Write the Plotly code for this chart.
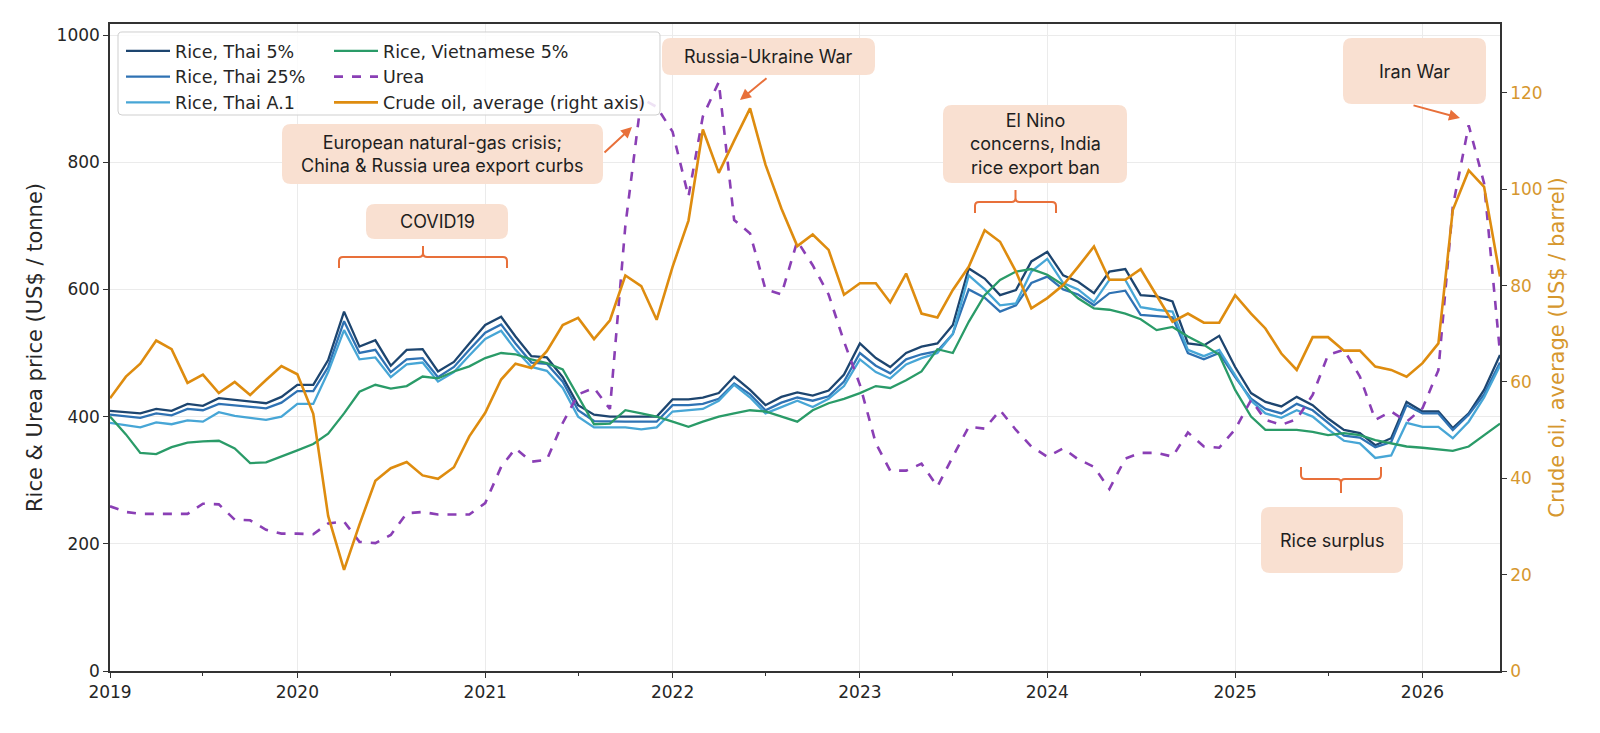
import pandas as pd
import plotly.graph_objects as go

# monthly, Jan 2019 .. Jun 2026
months = pd.date_range("2019-01-01", "2026-06-01", freq="MS")

thai5 = [409, 407, 405, 412, 409, 420, 417, 429, 426, 423, 421, 431,
         450, 450, 489, 565, 510, 520, 480, 505, 506, 471, 486, 515,
         544, 557, 526, 495, 493, 462, 418, 403, 400, 400, 400, 400,
         427, 427, 430, 437, 463, 442, 418, 431, 438, 433, 441, 466,
         515, 492, 478, 500, 510, 515, 544, 633, 617, 591, 599, 644,
         659, 622, 612, 594, 628, 632, 591, 589, 581, 515, 512, 527,
         478, 437, 423, 416, 431, 418, 397, 379, 374, 355, 366, 423,
         408, 408, 382, 405, 442, 497]

thai25 = [403, 400, 398, 405, 402, 412, 410, 420, 418, 415, 413, 422,
          440, 440, 478, 550, 500, 505, 470, 490, 492, 462, 478, 505,
          532, 545, 515, 485, 483, 455, 410, 393, 392, 392, 392, 392,
          418, 418, 420, 428, 452, 435, 410, 422, 430, 425, 432, 455,
          500, 480, 468, 490, 498, 503, 530, 600, 587, 565, 575, 610,
          620, 600, 592, 575, 594, 598, 560, 558, 556, 500, 490, 500,
          462, 428, 412, 405, 420, 410, 390, 370, 367, 352, 360, 418,
          405, 405, 379, 403, 435, 485]

thai_a1 = [390, 386, 383, 391, 388, 394, 392, 407, 401, 398, 395, 400,
           420, 420, 470, 536, 490, 493, 462, 482, 485, 455, 470, 496,
           522, 535, 505, 478, 472, 445, 400, 383, 383, 383, 380, 383,
           408, 410, 412, 425, 450, 430, 405, 415, 425, 415, 428, 448,
           490, 470, 460, 482, 492, 500, 530, 622, 600, 575, 578, 628,
           648, 610, 600, 580, 615, 615, 572, 568, 565, 505, 495, 505,
           465, 425, 405, 398, 410, 400, 380, 362, 358, 335, 339, 390,
           384, 384, 366, 392, 430, 480]

viet5 = [400, 372, 343, 341, 352, 359, 361, 362, 350, 327, 328, 337,
         347, 357, 373, 405, 439, 450, 444, 448, 463, 460, 471, 479,
         492, 500, 498, 490, 484, 474, 431, 388, 389, 410, 405, 400,
         392, 384, 392, 400, 405, 410, 408, 400, 392, 410, 421, 428,
         437, 448, 445, 457, 471, 506, 500, 549, 591, 615, 628, 632,
         623, 607, 586, 570, 568, 562, 553, 536, 541, 526, 513, 497,
         442, 400, 379, 379, 379, 376, 371, 374, 371, 363, 358, 353,
         351, 349, 346, 353, 371, 389]

urea = [259, 250, 247, 247, 247, 247, 263, 262, 238, 237, 222, 216,
        216, 215, 232, 235, 203, 201, 214, 248, 250, 246, 246, 246,
        264, 321, 350, 329, 332, 390, 435, 445, 412, 700, 900, 887,
        848, 746, 872, 926, 709, 688, 600, 592, 676, 638, 592, 518,
        450, 358, 315, 315, 326, 290, 337, 384, 381, 410, 379, 353,
        337, 350, 333, 321, 286, 334, 343, 343, 337, 375, 353, 351,
        380, 426, 395, 387, 396, 434, 497, 505, 463, 395, 408, 392,
        413, 473, 730, 858, 767, 500]

crude = [56.6, 61.1, 63.8, 68.6, 66.8, 59.8, 61.5, 57.7, 60.0, 57.3, 60.4, 63.3,
         61.6, 53.4, 32.2, 21.0, 30.4, 39.5, 42.1, 43.4, 40.6, 39.9, 42.3, 48.7,
         53.6, 60.5, 63.8, 62.9, 66.4, 71.8, 73.3, 68.9, 72.8, 82.1, 79.9, 72.9,
         83.9, 93.5, 112.4, 103.4, 110.1, 116.8, 105.1, 96.0, 88.2, 90.6, 87.4, 78.1,
         80.5, 80.5, 76.5, 82.5, 74.2, 73.4, 79.1, 83.9, 91.5, 89.1, 82.9, 75.3,
         77.4, 80.1, 83.9, 88.1, 81.2, 81.2, 83.4, 78.0, 72.5, 74.2, 72.3, 72.3,
         78.0, 74.2, 71.1, 65.9, 62.5, 69.3, 69.3, 66.5, 66.5, 63.2, 62.5, 61.1,
         63.9, 68.0, 95.7, 103.9, 100.5, 81.9]

left_ticks = [0, 200, 400, 600, 800, 1000]
right_ticks = [0, 20, 40, 60, 80, 100, 120]
year_ticks = [f"{y}-01-01" for y in range(2019, 2027)]
year_labels = [str(y) for y in range(2019, 2027)]

W, H = 1600, 733
PL, PR, PT, PB = 110, 1500, 24, 671   # plot area in pixels

def fx(x):
    return (x - PL) / (PR - PL)

def fy(y):
    return (PB - y) / (PB - PT)

def to_path(pts):
    s = ""
    for p in pts:
        xy = p[1:]
        s += p[0] + " " + " ".join(f"{fx(xy[k]):.5f},{fy(xy[k+1]):.5f}" for k in range(0, len(xy), 2)) + " "
    return s

def rrect(x0, y0, x1, y1, r=8):
    pts = [("M", x0 + r, y0), ("L", x1 - r, y0), ("Q", x1, y0, x1, y0 + r),
           ("L", x1, y1 - r), ("Q", x1, y1, x1 - r, y1), ("L", x0 + r, y1),
           ("Q", x0, y1, x0, y1 - r), ("L", x0, y0 + r), ("Q", x0, y0, x0 + r, y0)]
    return to_path(pts) + "Z"

def brace(x1, x2, yb, ye, yt, r=4):
    # ends at ye, bar at yb, centre tick to yt
    xc = (x1 + x2) / 2
    d = 1 if ye > yb else -1
    pts = [("M", x1, ye), ("L", x1, yb + d * r), ("Q", x1, yb, x1 + r, yb),
           ("L", xc - r, yb), ("Q", xc, yb, xc, yb - d * r), ("L", xc, yt),
           ("M", xc, yb - d * r), ("Q", xc, yb, xc + r, yb), ("L", x2 - r, yb),
           ("Q", x2, yb, x2, yb + d * r), ("L", x2, ye)]
    return to_path(pts)

C_T5 = "#1d456f"
C_T25 = "#2f72b3"
C_A1 = "#47a6d6"
C_VN = "#2a9b68"
C_UREA = "#8a3fb5"
C_OIL = "#de8c0f"
C_AX_R = "#d6972e"
C_NOTE = "#e8703a"
BOX = "#f9e0d1"
TXT = "#262626"

fig = go.Figure()

series = [
    ("Rice, Thai 5%", thai5, C_T5, "solid", "legend", "y"),
    ("Rice, Thai 25%", thai25, C_T25, "solid", "legend", "y"),
    ("Rice, Thai A.1", thai_a1, C_A1, "solid", "legend", "y"),
    ("Rice, Vietnamese 5%", viet5, C_VN, "solid", "legend2", "y"),
    ("Urea", urea, C_UREA, "dash", "legend2", "y"),
    ("Crude oil, average (right axis)", crude, C_OIL, "solid", "legend2", "y2"),
]
for name, vals, col, dash, leg, ax in series:
    fig.add_trace(go.Scatter(
        x=months, y=vals, name=name, mode="lines", yaxis=ax,
        line=dict(color=col, width=2.6 if ax == "y2" or dash == "dash" else 2.3, dash=dash),
        legend=leg, legendgroup=name))

font = "DejaVu Sans"
note_font = dict(family="Inter", size=18, color="#1e1e1e")

shapes = []
annots = []

# legend frame
shapes.append(dict(type="path", xref="paper", yref="paper", path=rrect(118, 32, 660, 115, 4),
                   fillcolor="rgba(255,255,255,0.85)", line=dict(color="#cfcfcf", width=1), layer="above"))

notes = [
    ("Russia-Ukraine War", (662, 38, 875, 75)),
    ("European natural-gas crisis;<br>China & Russia urea export curbs", (282, 124, 603, 184)),
    ("COVID19", (366, 204, 508, 239)),
    ("El Nino<br>concerns, India<br>rice export ban", (943, 105, 1127, 183)),
    ("Iran War", (1343, 38, 1486, 104)),
    ("Rice surplus", (1261, 507, 1403, 573)),
]
for txt, (x0, y0, x1, y1) in notes:
    shapes.append(dict(type="path", xref="paper", yref="paper", path=rrect(x0, y0, x1, y1, 9),
                       fillcolor=BOX, line=dict(width=0), layer="above"))
    annots.append(dict(text=txt, xref="paper", yref="paper", x=fx((x0 + x1) / 2), y=fy((y0 + y1) / 2),
                       showarrow=False, font=note_font, xanchor="center", yanchor="middle", align="center"))

# braces
for x1, x2, yb, ye, yt in [(339, 507, 257, 268, 246), (975, 1056, 202, 213, 190),
                           (1301, 1381, 479, 467, 493)]:
    shapes.append(dict(type="path", xref="paper", yref="paper", path=brace(x1, x2, yb, ye, yt),
                       line=dict(color=C_NOTE, width=2), layer="above"))

# arrows: head, tail
for hx, hy, tx, ty in [(740, 100, 768, 77), (632, 127, 603, 154), (1460, 118, 1412, 105)]:
    annots.append(dict(text="", xref="paper", yref="paper", x=fx(hx), y=fy(hy),
                       ax=tx - hx, ay=ty - hy, showarrow=True, arrowhead=2, arrowsize=1.1,
                       arrowwidth=2, arrowcolor=C_NOTE))

leg_font = dict(family=font, size=17.5, color=TXT)
tick_font = dict(size=17, color=TXT)

fig.update_layout(
    width=W, height=H,
    margin=dict(l=PL, r=W - PR, t=PT, b=H - PB),
    paper_bgcolor="white", plot_bgcolor="white",
    font=dict(family=font, size=15, color=TXT),
    showlegend=True,
    legend=dict(x=fx(121), y=fy(33), xanchor="left", yanchor="top", bgcolor="rgba(0,0,0,0)",
                borderwidth=0, font=leg_font, tracegroupgap=0, itemwidth=44),
    legend2=dict(x=fx(329), y=fy(33), xanchor="left", yanchor="top", bgcolor="rgba(0,0,0,0)",
                 borderwidth=0, font=leg_font, tracegroupgap=0, itemwidth=44),
    xaxis=dict(type="date", range=["2019-01-01", "2026-06-01"], tickvals=year_ticks, ticktext=year_labels,
               ticks="outside", ticklen=5, tickcolor="#333", showline=True, linecolor="#333", linewidth=1.5,
               mirror=True, showgrid=True, gridcolor="#ebebeb", gridwidth=1, zeroline=False,
               tickfont=tick_font,
               minor=dict(ticks="outside", ticklen=3, tickcolor="#333", dtick="M6", tick0="2019-01-01",
                          showgrid=False)),
    yaxis=dict(range=[0, 1017.3], tickvals=left_ticks, ticks="outside", ticklen=5, tickcolor="#333",
               showline=True, linecolor="#333", linewidth=1.5, mirror=True, showgrid=True,
               gridcolor="#ebebeb", zeroline=False, tickfont=tick_font,
               title=dict(text="Rice & Urea price (US$ / tonne)", font=dict(size=21, color=TXT), standoff=8)),
    yaxis2=dict(range=[0, 134.3], tickvals=right_ticks, overlaying="y", side="right", ticks="outside",
                ticklen=5, tickcolor="#333", showline=True, linecolor="#333", linewidth=1.5, showgrid=False,
                zeroline=False, tickfont=dict(size=17, color=C_AX_R),
                title=dict(text="Crude oil, average (US$ / barrel)", font=dict(size=21, color=C_AX_R), standoff=8)),
    shapes=shapes,
    annotations=annots,
)

fig.write_html("out.html", config={"displayModeBar": False},
               post_script="document.body.style.margin='0px';")
